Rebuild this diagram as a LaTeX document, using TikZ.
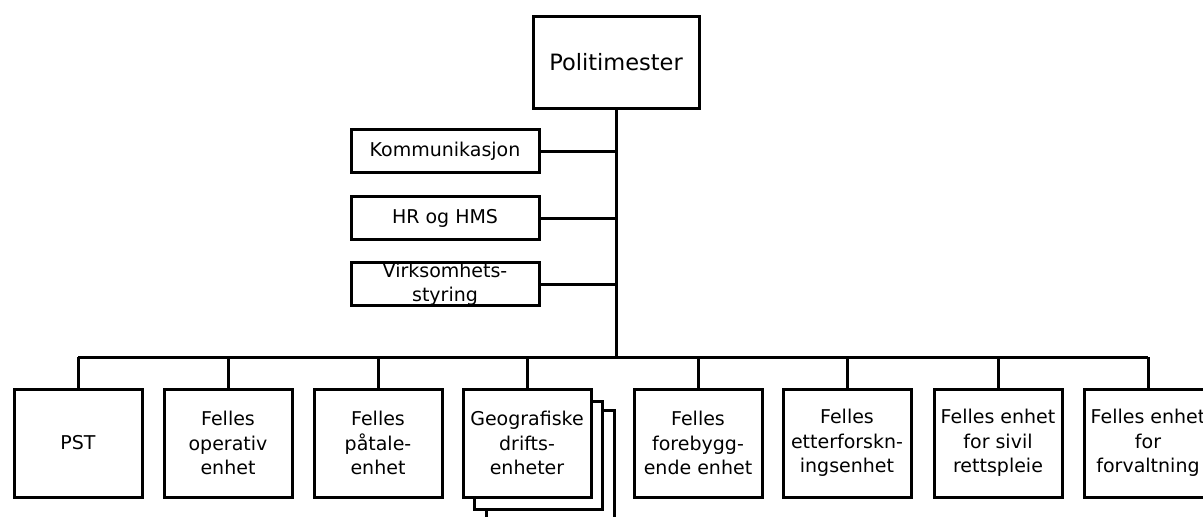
\documentclass[tikz,border=0pt]{standalone}
\usepackage{fontspec}
\setmainfont{DejaVu Sans}
\usepackage{tikz}

\begin{document}
\begin{tikzpicture}[baseline, line width=3pt, x=1pt, y=-1pt,
  chefbox/.style={draw, rectangle, minimum width=166pt, minimum height=92pt,
    inner sep=0pt, font=\fontsize{22.5}{27}\selectfont},
  stabbox/.style={draw, rectangle, minimum width=188pt, minimum height=43pt,
    inner sep=0pt, align=center, font=\fontsize{19}{24.5}\selectfont},
  enhetbox/.style={draw, rectangle, fill=white, minimum width=128pt, minimum height=108pt,
    inner sep=0pt, align=center, font=\fontsize{19}{24.5}\selectfont}]

  \useasboundingbox (0,0) rectangle (1203,517);

  \begin{scope}[xshift=0pt, yshift=0pt]

  \draw (616,62) node[name=pm, chefbox] {Politimester};

  \draw (445,151) node[name=kom, stabbox] {Kommunikasjon};
  \draw (445,218) node[name=hr, stabbox] {HR og HMS};
  \draw (445,284) node[name=virk, stabbox] {\raisebox{-4.7pt}[0pt][0pt]{\begin{tabular}{@{}c@{}}Virksomhets-\\styring\end{tabular}}};

  \coordinate (bus) at (0,357);

  % geografiske driftsenheter ligger i stabel
  \draw (550,464) node[name=geo3, enhetbox] {};
  \draw (538,455) node[name=geo2, enhetbox] {};
  \draw (527,443) node[name=geo, enhetbox] {Geografiske\\drifts-\\enheter};

  \draw (78,443) node[name=pst, enhetbox] {PST};
  \draw (228,443) node[name=ops, enhetbox] {Felles\\operativ\\enhet};
  \draw (378,443) node[name=pat, enhetbox] {Felles\\påtale-\\enhet};
  \draw (698,443) node[name=forb, enhetbox] {Felles\\forebygg-\\ende enhet};
  \draw (847,443) node[name=etf, enhetbox] {Felles\\etterforskn-\\ingsenhet};
  \draw (998,443) node[name=siv, enhetbox] {Felles enhet\\for sivil\\rettspleie};
  \draw (1148,443) node[name=forv, enhetbox] {Felles enhet\\for\\forvaltning};

  \draw [-] (pm.south) -- (pm.south |- bus);
  \draw [-] (kom.east) -- (kom.east -| pm.south);
  \draw [-] (hr.east) -- (hr.east -| pm.south);
  \draw [-] (virk.east) -- (virk.east -| pm.south);

  \draw [-] (pst.north |- bus) -- (forv.north |- bus);
  \foreach \n in {pst, ops, pat, geo, forb, etf, siv, forv}
    \draw [-] (\n.north) -- (\n.north |- bus);

  \end{scope}

\end{tikzpicture}
\end{document}
